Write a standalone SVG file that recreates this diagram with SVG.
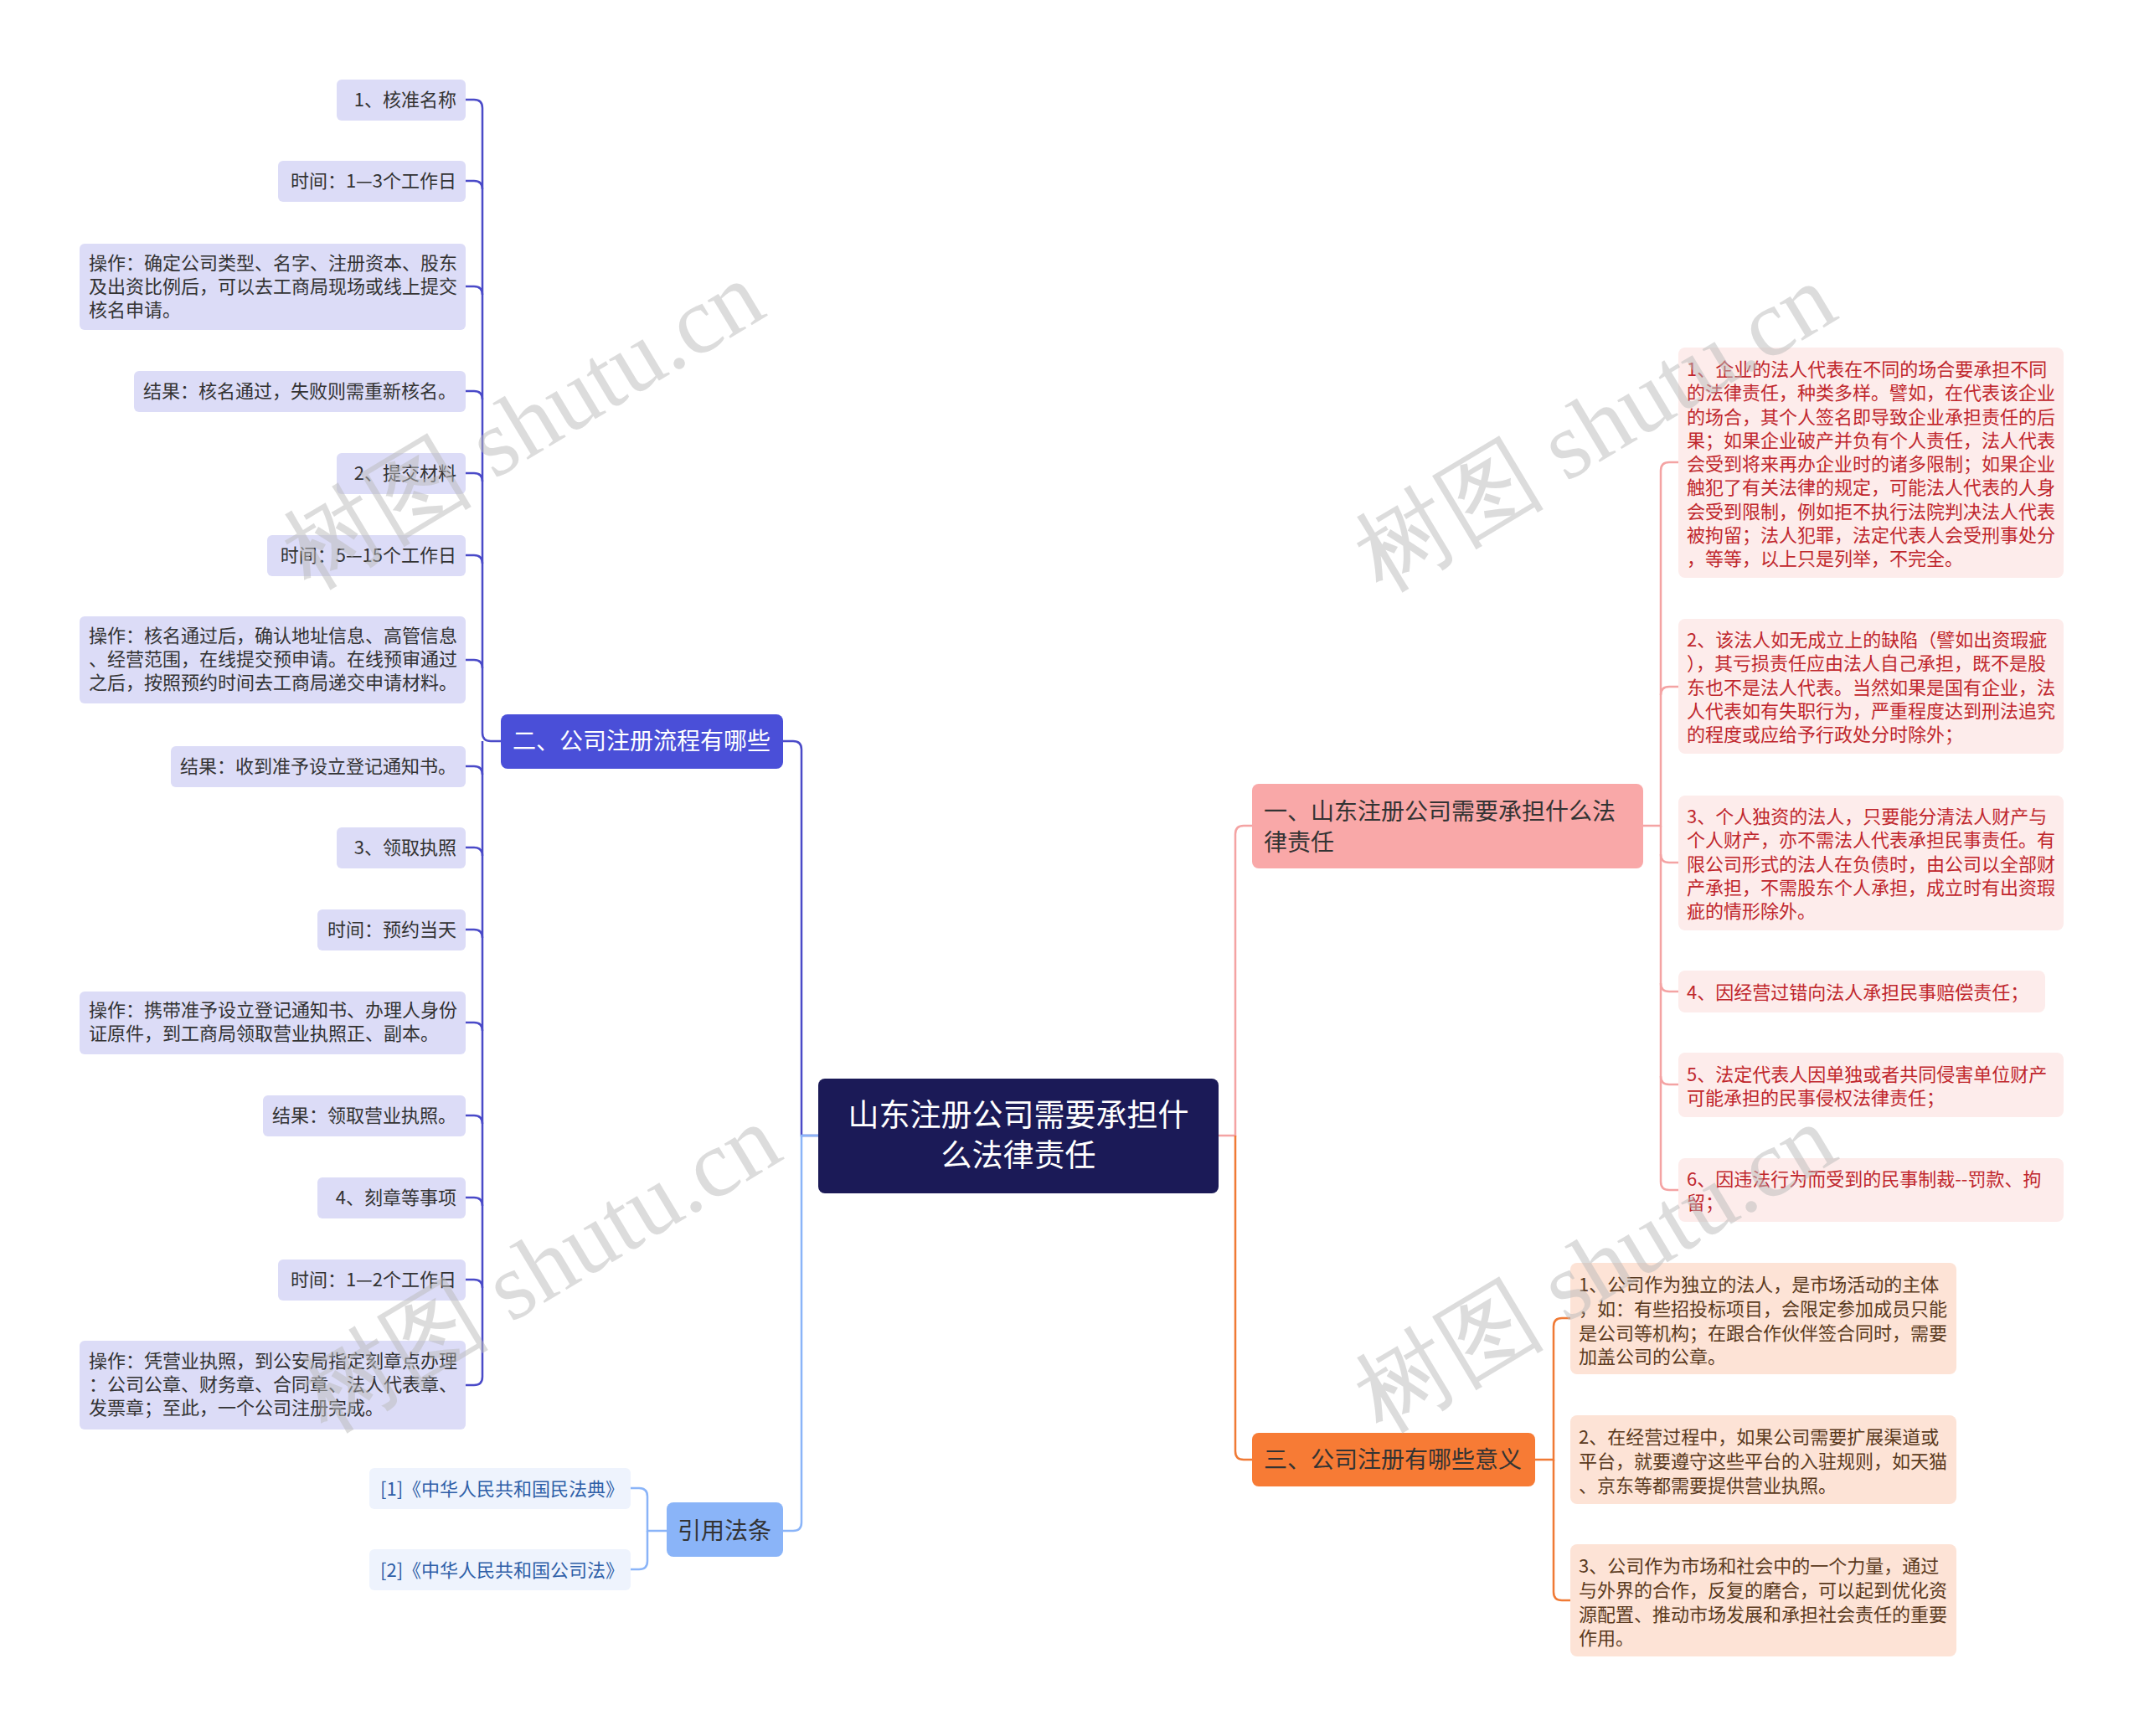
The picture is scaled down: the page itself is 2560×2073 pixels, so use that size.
<svg xmlns="http://www.w3.org/2000/svg" width="2560" height="2073" viewBox="0 0 2560 2073">
<style>
text{font-family:"Noto Sans CJK SC","Noto Sans",sans-serif;}
.t{font-size:22px;}
.l{fill:#dcdcf7;}
.lt{fill:#333;}
.pk{fill:#fdeceb;}
.pt{fill:#c0272d;}
.or{fill:#fde3d6;}
.ot{fill:#5a3a20;}
.c{fill:none;stroke-width:2.5;}
.wm{font-family:"Liberation Serif",serif;font-size:114px;fill:#bbb;opacity:0.5;}
</style>
<rect width="2560" height="2073" fill="#fff"/>
<g id="connectors">
<g class="c" stroke="#4a4ac8">
<path d="M598 885 H586 Q576 885 576 875 V129 Q576 119 566 119 H556"/>
<path d="M576 885 V1644 Q576 1654 566 1654 H556"/>
<path d="M576 226 Q576 216 566 216 H556"/><path d="M576 352 Q576 342 566 342 H556"/>
<path d="M576 477 Q576 467 566 467 H556"/><path d="M576 575 Q576 565 566 565 H556"/>
<path d="M576 673 Q576 663 566 663 H556"/><path d="M576 798 Q576 788 566 788 H556"/>
<path d="M576 925 Q576 915 566 915 H556"/><path d="M576 1022 Q576 1012 566 1012 H556"/>
<path d="M576 1120 Q576 1110 566 1110 H556"/><path d="M576 1231 Q576 1221 566 1221 H556"/>
<path d="M576 1342 Q576 1332 566 1332 H556"/><path d="M576 1440 Q576 1430 566 1430 H556"/>
<path d="M576 1538 Q576 1528 566 1528 H556"/>
<path d="M977 1356 H957 V895 Q957 885 947 885 H935"/>
</g>
<g class="c" stroke="#8ab4f8">
<path d="M977 1356 H957 V1818 Q957 1828 947 1828 H935"/>
<path d="M796 1828 H773 V1787 Q773 1777 763 1777 H753"/>
<path d="M773 1828 V1864 Q773 1874 763 1874 H753"/>
</g>
<g class="c" stroke="#f4a3a3">
<path d="M1455 1356 H1475 V996 Q1475 986 1485 986 H1495"/>
<path d="M1962 986 H1983 V562 Q1983 552 1993 552 H2004"/>
<path d="M1983 986 V1411 Q1983 1421 1993 1421 H2004"/>
<path d="M1983 830 Q1983 820 1993 820 H2004"/><path d="M1983 1020 Q1983 1030 1993 1030 H2004"/>
<path d="M1983 1174 Q1983 1184 1993 1184 H2004"/><path d="M1983 1285 Q1983 1295 1993 1295 H2004"/>
</g>
<g class="c" stroke="#f07a35">
<path d="M1475 1356 V1733 Q1475 1743 1485 1743 H1495"/>
<path d="M1833 1743 H1855 V1584 Q1855 1574 1865 1574 H1875"/>
<path d="M1855 1743 V1901 Q1855 1911 1865 1911 H1875"/>
</g>
</g>
<g id="root"><rect x="977" y="1288" width="478" height="137" rx="8" fill="#1b1a57"/>
<text x="1216" y="1345" font-size="37" fill="#fff" text-anchor="middle">山东注册公司需要承担什</text>
<text x="1216" y="1393" font-size="37" fill="#fff" text-anchor="middle">么法律责任</text></g>
<g id="b2"><rect x="598" y="853" width="337" height="65" rx="8" fill="#4a4fd8"/><text x="612" y="895" font-size="28" fill="#fff">二、公司注册流程有哪些</text></g>
<g id="b1"><rect x="1495" y="936" width="467" height="101" rx="8" fill="#f9a8a8"/><text x="1509" y="979" font-size="28" fill="#333">一、山东注册公司需要承担什么法</text><text x="1509" y="1016" font-size="28" fill="#333">律责任</text></g>
<g id="b3"><rect x="1495" y="1711" width="338" height="64" rx="8" fill="#f77b35"/><text x="1509" y="1753" font-size="28" fill="#333">三、公司注册有哪些意义</text></g>
<g id="bref"><rect x="796" y="1794" width="139" height="65" rx="8" fill="#8ab4f8"/><text x="865" y="1838" font-size="28" fill="#333" text-anchor="middle">引用法条</text></g>
<g id="r1"><rect x="441" y="1753" width="312" height="49" rx="6" fill="#eef3fd"/><text class="t" x="454" y="1786" fill="#2e5fa8">[1]《中华人民共和国民法典》</text></g>
<g id="r2"><rect x="441" y="1850" width="312" height="49" rx="6" fill="#eef3fd"/><text class="t" x="454" y="1883" fill="#2e5fa8">[2]《中华人民共和国公司法》</text></g>
<g id="n1"><rect class="l" x="402" y="95" width="154" height="49" rx="6"/><text class="t lt" x="545" y="127" text-anchor="end">1、核准名称</text></g>
<g id="n2"><rect class="l" x="332" y="192" width="224" height="49" rx="6"/><text class="t lt" x="545" y="224" text-anchor="end">时间：1—3个工作日</text></g>
<g id="n3"><rect class="l" x="95" y="291" width="461" height="103" rx="6"/><text class="t lt" x="106"><tspan x="106" y="322">操作：确定公司类型、名字、注册资本、股东</tspan><tspan x="106" y="350">及出资比例后，可以去工商局现场或线上提交</tspan><tspan x="106" y="378">核名申请。</tspan></text></g>
<g id="n4"><rect class="l" x="160" y="443" width="396" height="49" rx="6"/><text class="t lt" x="545" y="475" text-anchor="end">结果：核名通过，失败则需重新核名。</text></g>
<g id="n5"><rect class="l" x="402" y="541" width="154" height="49" rx="6"/><text class="t lt" x="545" y="573" text-anchor="end">2、提交材料</text></g>
<g id="n6"><rect class="l" x="319" y="639" width="237" height="49" rx="6"/><text class="t lt" x="545" y="671" text-anchor="end">时间：5—15个工作日</text></g>
<g id="n7"><rect class="l" x="95" y="736" width="461" height="104" rx="6"/><text class="t lt"><tspan x="106" y="767">操作：核名通过后，确认地址信息、高管信息</tspan><tspan x="106" y="795">、经营范围，在线提交预申请。在线预审通过</tspan><tspan x="106" y="823">之后，按照预约时间去工商局递交申请材料。</tspan></text></g>
<g id="n8"><rect class="l" x="204" y="891" width="352" height="49" rx="6"/><text class="t lt" x="545" y="923" text-anchor="end">结果：收到准予设立登记通知书。</text></g>
<g id="n9"><rect class="l" x="402" y="988" width="154" height="49" rx="6"/><text class="t lt" x="545" y="1020" text-anchor="end">3、领取执照</text></g>
<g id="n10"><rect class="l" x="379" y="1086" width="177" height="49" rx="6"/><text class="t lt" x="545" y="1118" text-anchor="end">时间：预约当天</text></g>
<g id="n11"><rect class="l" x="95" y="1184" width="461" height="75" rx="6"/><text class="t lt"><tspan x="106" y="1214">操作：携带准予设立登记通知书、办理人身份</tspan><tspan x="106" y="1242">证原件，到工商局领取营业执照正、副本。</tspan></text></g>
<g id="n12"><rect class="l" x="314" y="1308" width="242" height="49" rx="6"/><text class="t lt" x="545" y="1340" text-anchor="end">结果：领取营业执照。</text></g>
<g id="n13"><rect class="l" x="379" y="1406" width="177" height="49" rx="6"/><text class="t lt" x="545" y="1438" text-anchor="end">4、刻章等事项</text></g>
<g id="n14"><rect class="l" x="332" y="1504" width="224" height="49" rx="6"/><text class="t lt" x="545" y="1536" text-anchor="end">时间：1—2个工作日</text></g>
<g id="n15"><rect class="l" x="95" y="1601" width="461" height="106" rx="6"/><text class="t lt"><tspan x="106" y="1633">操作：凭营业执照，到公安局指定刻章点办理</tspan><tspan x="106" y="1661">：公司公章、财务章、合同章、法人代表章、</tspan><tspan x="106" y="1689">发票章；至此，一个公司注册完成。</tspan></text></g>
<g id="c1"><rect class="pk" x="2004" y="415" width="460" height="275" rx="8"/><text class="t pt"><tspan x="2014" y="449">1、企业的法人代表在不同的场合要承担不同</tspan><tspan x="2014" y="477">的法律责任，种类多样。譬如，在代表该企业</tspan><tspan x="2014" y="506">的场合，其个人签名即导致企业承担责任的后</tspan><tspan x="2014" y="534">果；如果企业破产并负有个人责任，法人代表</tspan><tspan x="2014" y="562">会受到将来再办企业时的诸多限制；如果企业</tspan><tspan x="2014" y="590">触犯了有关法律的规定，可能法人代表的人身</tspan><tspan x="2014" y="619">会受到限制，例如拒不执行法院判决法人代表</tspan><tspan x="2014" y="647">被拘留；法人犯罪，法定代表人会受刑事处分</tspan><tspan x="2014" y="675">，等等，以上只是列举，不完全。</tspan></text></g>
<g id="c2"><rect class="pk" x="2004" y="739" width="460" height="161" rx="8"/><text class="t pt"><tspan x="2014" y="772">2、该法人如无成立上的缺陷（譬如出资瑕疵</tspan><tspan x="2014" y="800">），其亏损责任应由法人自己承担，既不是股</tspan><tspan x="2014" y="829">东也不是法人代表。当然如果是国有企业，法</tspan><tspan x="2014" y="857">人代表如有失职行为，严重程度达到刑法追究</tspan><tspan x="2014" y="885">的程度或应给予行政处分时除外；</tspan></text></g>
<g id="c3"><rect class="pk" x="2004" y="950" width="460" height="161" rx="8"/><text class="t pt"><tspan x="2014" y="983">3、个人独资的法人，只要能分清法人财产与</tspan><tspan x="2014" y="1011">个人财产，亦不需法人代表承担民事责任。有</tspan><tspan x="2014" y="1040">限公司形式的法人在负债时，由公司以全部财</tspan><tspan x="2014" y="1068">产承担，不需股东个人承担，成立时有出资瑕</tspan><tspan x="2014" y="1096">疵的情形除外。</tspan></text></g>
<g id="c4"><rect class="pk" x="2004" y="1159" width="438" height="50" rx="8"/><text class="t pt" x="2014" y="1193">4、因经营过错向法人承担民事赔偿责任；</text></g>
<g id="c5"><rect class="pk" x="2004" y="1257" width="460" height="77" rx="8"/><text class="t pt"><tspan x="2014" y="1291">5、法定代表人因单独或者共同侵害单位财产</tspan><tspan x="2014" y="1319">可能承担的民事侵权法律责任；</tspan></text></g>
<g id="c6"><rect class="pk" x="2004" y="1383" width="460" height="76" rx="8"/><text class="t pt"><tspan x="2014" y="1416">6、因违法行为而受到的民事制裁--罚款、拘</tspan><tspan x="2014" y="1444">留；</tspan></text></g>
<g id="d1"><rect class="or" x="1875" y="1508" width="461" height="133" rx="8"/><text class="t ot"><tspan x="1885" y="1542">1、公司作为独立的法人，是市场活动的主体</tspan><tspan x="1885" y="1571">，如：有些招投标项目，会限定参加成员只能</tspan><tspan x="1885" y="1600">是公司等机构；在跟合作伙伴签合同时，需要</tspan><tspan x="1885" y="1628">加盖公司的公章。</tspan></text></g>
<g id="d2"><rect class="or" x="1875" y="1690" width="461" height="106" rx="8"/><text class="t ot"><tspan x="1885" y="1724">2、在经营过程中，如果公司需要扩展渠道或</tspan><tspan x="1885" y="1753">平台，就要遵守这些平台的入驻规则，如天猫</tspan><tspan x="1885" y="1782">、京东等都需要提供营业执照。</tspan></text></g>
<g id="d3"><rect class="or" x="1875" y="1844" width="461" height="134" rx="8"/><text class="t ot"><tspan x="1885" y="1878">3、公司作为市场和社会中的一个力量，通过</tspan><tspan x="1885" y="1907">与外界的合作，反复的磨合，可以起到优化资</tspan><tspan x="1885" y="1936">源配置、推动市场发展和承担社会责任的重要</tspan><tspan x="1885" y="1964">作用。</tspan></text></g>
<g id="watermarks">
<text class="wm" transform="translate(370,705) rotate(-31)">树图 shutu.cn</text>
<text class="wm" transform="translate(390,1712) rotate(-31)">树图 shutu.cn</text>
<text class="wm" transform="translate(1650,708) rotate(-31)">树图 shutu.cn</text>
<text class="wm" transform="translate(1650,1712) rotate(-31)">树图 shutu.cn</text>
</g>
</svg>
